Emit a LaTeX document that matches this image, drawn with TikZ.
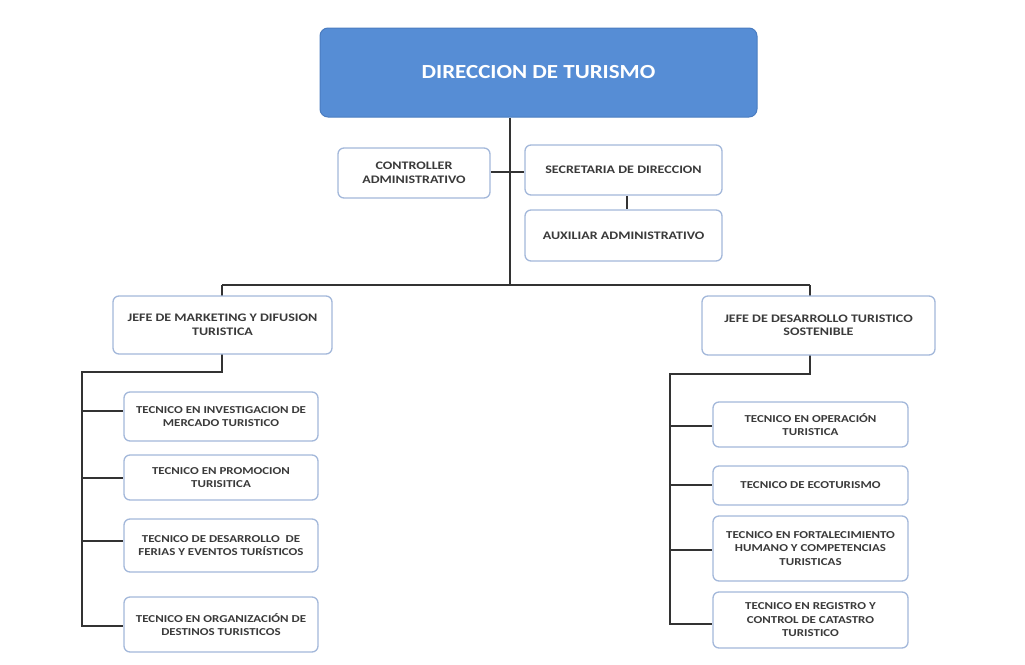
\documentclass[tikz,border=0pt]{standalone}
\usepackage{fontspec}
\setmainfont{Carlito}
\newfontfamily\boxfont[FakeStretch=1.22]{Carlito}
\newfontfamily\titlefont[FakeStretch=1.15]{Carlito}
\usetikzlibrary{backgrounds}
\definecolor{topblue}{HTML}{568DD5}
\definecolor{topedge}{HTML}{4A7CC0}
\definecolor{boxedge}{HTML}{A3B8DA}
\definecolor{txt}{HTML}{3A3A3A}
\definecolor{linec}{HTML}{333333}
\tikzset{
  x=1pt, y=-1pt,
  unitbox/.style={draw=boxedge, line width=1.3pt, fill=white, rounded corners=6pt,
    text=txt, font=\boxfont\bfseries\fontsize{11.5}{13.5}\selectfont, align=center, inner sep=0pt},
  techbox/.style={unitbox, font=\boxfont\bfseries\fontsize{10.6}{13.5}\selectfont},
  conn/.style={draw=linec, line width=1.4pt},
}
\newcommand{\ubox}[7][unitbox]{% style, name, x1, y1, x2, y2, text
  \node[#1, minimum width=#5pt-#3pt, minimum height=#6pt-#4pt] (#2) at ({(#3+#5)/2},{(#4+#6)/2}) {#7};}
\begin{document}
\begin{tikzpicture}
\useasboundingbox (0,0) rectangle (1025,664);
% top
\node[draw=topedge, line width=1pt, fill=topblue, rounded corners=8pt, minimum width=437pt, minimum height=89pt,
  text=white, font=\titlefont\bfseries\fontsize{20}{24}\selectfont] (top) at (538.5,72.5) {DIRECCION DE TURISMO};
\ubox{ctrl}{338}{148}{490}{198}{CONTROLLER\\ADMINISTRATIVO}
\ubox{sec}{525}{145}{722}{195}{SECRETARIA DE DIRECCION}
\ubox{aux}{525}{210}{722}{261}{AUXILIAR ADMINISTRATIVO}
\ubox{jl}{113}{296}{332}{354}{JEFE DE MARKETING Y DIFUSION\\TURISTICA}
\ubox{jr}{702}{296}{935}{355}{JEFE DE DESARROLLO TURISTICO\\SOSTENIBLE}
\ubox[techbox]{l1}{124}{392}{318}{441}{TECNICO EN INVESTIGACION DE\\MERCADO TURISTICO}
\ubox[techbox]{l2}{124}{455}{318}{500}{TECNICO EN PROMOCION\\TURISITICA}
\ubox[techbox]{l3}{124}{519}{318}{572}{TECNICO DE DESARROLLO~ DE\\FERIAS Y EVENTOS TURÍSTICOS}
\ubox[techbox]{l4}{124}{597}{318}{652}{TECNICO EN ORGANIZACIÓN DE\\DESTINOS TURISTICOS}
\ubox[techbox]{r1}{713}{402}{908}{447}{TECNICO EN OPERACIÓN\\TURISTICA}
\ubox[techbox]{r2}{713}{466}{908}{505}{TECNICO DE ECOTURISMO}
\ubox[techbox]{r3}{713}{516}{908}{581}{TECNICO EN FORTALECIMIENTO\\HUMANO Y COMPETENCIAS\\TURISTICAS}
\ubox[techbox]{r4}{713}{592}{908}{648}{TECNICO EN REGISTRO Y\\CONTROL DE CATASTRO\\TURISTICO}
% coordinates
\coordinate (hub) at (510,285);
\coordinate (mid) at (510,172);
\coordinate (hl) at (222,285);
\coordinate (hr) at (810,285);
\coordinate (ldrop) at (222,372);
\coordinate (lcorner) at (82,372);
\coordinate (rdrop) at (810,374);
\coordinate (rcorner) at (670,374);
\begin{pgfonlayer}{background}
\draw[conn] (top.south -| hub) -- (hub);
\draw[conn] (ctrl.east |- mid) -- (mid) -- (sec.west |- mid);
\draw[conn] (sec.south -| 627,0) -- (aux.north -| 627,0);
\draw[conn] (hl) -- (hr);
\draw[conn] (hl) -- (ldrop) -- (lcorner) -- (82,626) -- (l4.west |- 0,626);
\draw[conn] (hr) -- (rdrop) -- (rcorner) -- (670,624) -- (r4.west |- 0,624);
\draw[conn] (82,411) -- (l1.west |- 0,411);
\draw[conn] (82,478) -- (l2.west |- 0,478);
\draw[conn] (82,541) -- (l3.west |- 0,541);
\draw[conn] (670,426) -- (r1.west |- 0,426);
\draw[conn] (670,485) -- (r2.west |- 0,485);
\draw[conn] (670,550) -- (r3.west |- 0,550);
\end{pgfonlayer}
\end{tikzpicture}
\end{document}
